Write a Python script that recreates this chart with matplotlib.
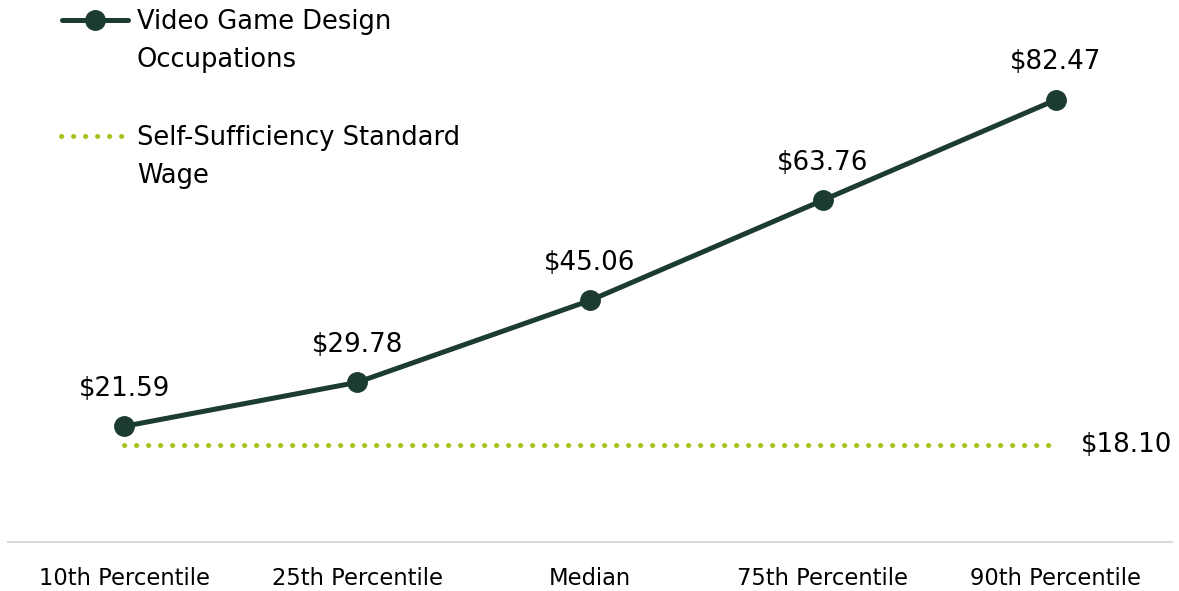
import matplotlib.pyplot as plt
from matplotlib.lines import Line2D
import numpy as np

categories = ["10th Percentile", "25th Percentile", "Median", "75th Percentile", "90th Percentile"]
wages = [21.59, 29.78, 45.06, 63.76, 82.47]
standard_wage = 18.10
series_names = ["Video Game Design\nOccupations", "Self-Sufficiency Standard\nWage"]

dark_green = "#1c3b33"
lime = "#a9c01f"
W, H = 1179, 591

plt.rcParams['font.family'] = ['DejaVu Sans']

fig = plt.figure(figsize=(W / 100, H / 100), dpi=100)
ax = fig.add_axes([8 / W, 49 / H, 1164 / W, 536 / H])

x = np.arange(len(categories))
ax.plot(x, wages, color=dark_green, lw=3.6, marker='o', markersize=14,
        solid_capstyle='round')
dots = (0, (0.05, 2.35))
ax.plot(x, [standard_wage] * len(x), color=lime, lw=3.6,
        linestyle=dots, dash_capstyle='round')

for xi, v in zip(x, wages):
    ax.annotate(f"${v:.2f}", (xi, v), xytext=(0, 27), textcoords='offset points',
                ha='center', va='center', fontsize=18.8, color='black')
ax.annotate(f"${standard_wage:.2f}", (x[-1], standard_wage), xytext=(18, 0),
            textcoords='offset points', ha='left', va='center', fontsize=18.8, color='black')

ax.set_xlim(-0.5, len(categories) - 0.5)
ax.set_ylim(0, 100)
ax.set_xticks(x)
ax.set_xticklabels(categories, fontsize=16.3)
ax.tick_params(axis='x', length=0, pad=18)
ax.set_yticks([])
for side in ['top', 'right', 'left']:
    ax.spines[side].set_visible(False)
ax.spines['bottom'].set_color('#d9d9d9')
ax.spines['bottom'].set_linewidth(1.5)

# legend drawn by hand so the key sits on the first text line
def fx(px):
    return px / W

def fy(py):
    return 1 - py / H

fig.add_artist(Line2D([fx(62), fx(128)], [fy(20), fy(20)], color=dark_green, lw=3.6,
                      solid_capstyle='round', transform=fig.transFigure))
fig.add_artist(Line2D([fx(95)], [fy(20)], color=dark_green, marker='o', markersize=14,
                      transform=fig.transFigure))
fig.add_artist(Line2D([fx(61), fx(126)], [fy(136), fy(136)], color=lime, lw=3.6,
                      linestyle=dots, dash_capstyle='round', transform=fig.transFigure))
for name, ty in zip(series_names, [20, 136]):
    fig.text(fx(137), fy(ty - 11), name, ha='left', va='top', fontsize=18.5,
             linespacing=1.58, color='black')

fig.savefig("out.png", dpi=100)
